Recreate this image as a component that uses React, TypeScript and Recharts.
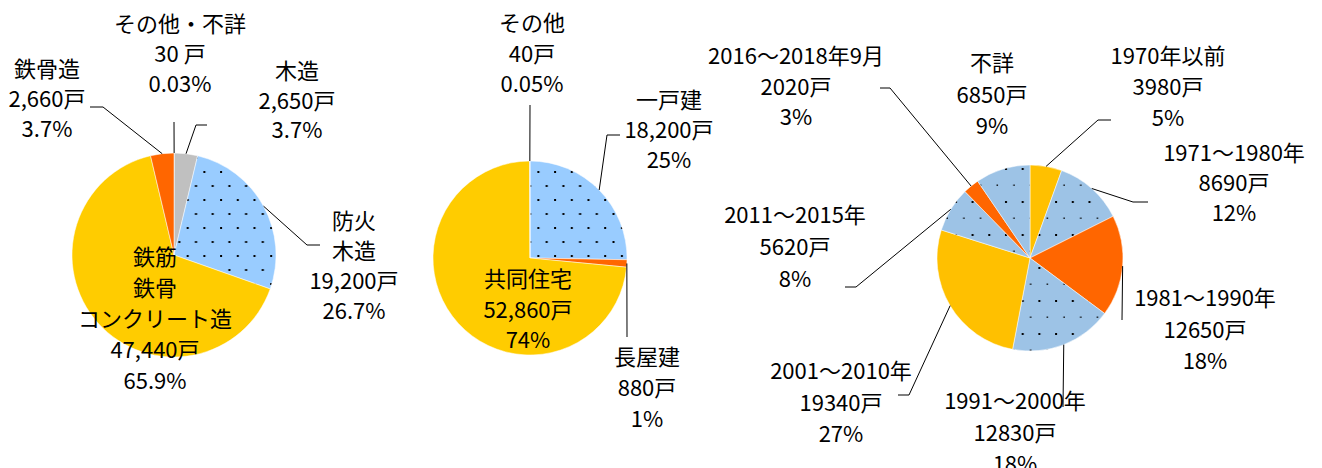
import { PieChart, Pie, Cell } from "recharts"

// 構造別
const structureNames = ["その他・不詳", "木造", "防火\n木造", "鉄筋\n鉄骨\nコンクリート造", "鉄骨造"]
const structureValues = [30, 2650, 19200, 47440, 2660]
const structureUnits = ["30 戸", "2,650戸", "19,200戸", "47,440戸", "2,660戸"]
const structureShares = ["0.03%", "3.7%", "26.7%", "65.9%", "3.7%"]

// 建て方別
const typeNames = ["一戸建", "長屋建", "共同住宅", "その他"]
const typeValues = [18200, 880, 52860, 40]
const typeUnits = ["18,200戸", "880戸", "52,860戸", "40戸"]
const typeShares = ["25%", "1%", "74%", "0.05%"]

// 建築の時期別
const periodNames = [
  "1970年以前",
  "1971～1980年",
  "1981～1990年",
  "1991～2000年",
  "2001～2010年",
  "2011～2015年",
  "2016～2018年9月",
  "不詳",
]
const periodValues = [3980, 8690, 12650, 12830, 19340, 5620, 2020, 6850]
const periodShares = ["5%", "12%", "18%", "18%", "27%", "8%", "3%", "9%"]

const DOT_A = "url(#dotsA)"
const DOT_B = "url(#dotsB)"
const structureFills = ["#C0C0C0", "#C0C0C0", DOT_A, "#FFCC00", "#FF6600"]
const typeFills = [DOT_A, "#FF6600", "#FFCC00", "#C0C0C0"]
const periodFills = [
  "#FFC000",
  DOT_B,
  "#FF6600",
  DOT_B,
  "#FFC000",
  DOT_B,
  "#FF6600",
  DOT_B,
]

type Spot = { dx: number; dy: number; gap: number; path: [number, number][] }

// label position relative to pie centre, leader line elbows
const structureSpots: Spot[] = [
  { dx: 6, dy: -233, gap: 30, path: [[0, -133]] },
  { dx: 123, dy: -186, gap: 29.5, path: [[22, -130], [33, -130]] },
  { dx: 180, dy: -36, gap: 30, path: [[133, -10], [146, -10]] },
  { dx: -19, dy: 0, gap: 31, path: [] },
  { dx: -127, dy: -188, gap: 30, path: [[-71, -148], [-84, -148]] },
]
const typeSpots: Spot[] = [
  { dx: 139, dy: -160, gap: 30, path: [[77, -123], [90, -123]] },
  { dx: 117, dy: 97, gap: 31, path: [[97, 79]] },
  { dx: -2, dy: 19, gap: 30.5, path: [] },
  { dx: 2, dy: -237, gap: 30.5, path: [[0, -153]] },
]
const periodSpots: Spot[] = [
  { dx: 138, dy: -204, gap: 31, path: [[68, -138], [81, -138]] },
  { dx: 204, dy: -107, gap: 30, path: [[103, -56], [118, -56]] },
  { dx: 175, dy: 38, gap: 31.5, path: [[92, 62]] },
  { dx: -15, dy: 141, gap: 31.5, path: [[33, 149]] },
  { dx: -189, dy: 111, gap: 31.5, path: [[-121, 137], [-132, 137]] },
  { dx: -235, dy: -45, gap: 32, path: [[-174, 29], [-185, 29]] },
  { dx: -234, dy: -204, gap: 30.5, path: [[-140, -170], [-150, -170]] },
  { dx: -38, dy: -197, gap: 31.5, path: [] },
]

const font = "'Liberation Sans Narrow', 'Noto Sans CJK JP', sans-serif"

function makeLabel(lines: string[][], spots: Spot[]) {
  return (props: any) => {
    const { cx, cy, midAngle, outerRadius, index } = props
    const spot = spots[index]
    const rad = (-midAngle * Math.PI) / 180
    const sx = cx + outerRadius * Math.cos(rad)
    const sy = cy + outerRadius * Math.sin(rad)
    const pts = [[sx, sy], ...spot.path.map(([x, y]) => [cx + x, cy + y])]
    return (
      <g key={`lbl-${index}`}>
        {spot.path.length > 0 && (
          <polyline
            points={pts.map((p) => p.join(",")).join(" ")}
            fill="none"
            stroke="#000"
            strokeWidth={1}
          />
        )}
        {lines[index].map((t, i) => (
          <text
            key={i}
            x={cx + spot.dx}
            y={cy + spot.dy + i * spot.gap}
            textAnchor="middle"
            dominantBaseline="central"
            fontFamily={font}
            fontSize={22}
            fill="#000"
          >
            {t}
          </text>
        ))}
      </g>
    )
  }
}

const structureData = structureNames.map((name, i) => ({ name, value: structureValues[i] }))
const typeData = typeNames.map((name, i) => ({ name, value: typeValues[i] }))
const periodData = periodNames.map((name, i) => ({ name, value: periodValues[i] }))

const structureLines = structureNames.map((n, i) => [...n.split("\n"), structureUnits[i], structureShares[i]])
const typeLines = typeNames.map((n, i) => [n, typeUnits[i], typeShares[i]])
const periodLines = periodNames.map((n, i) => [n, `${periodValues[i]}戸`, periodShares[i]])

export default function App() {
  return (
    <div style={{ position: "absolute", left: 0, top: 0, width: 1322, height: 468, background: "#fff" }}>
      <PieChart width={1322} height={468} margin={{ top: 0, right: 0, bottom: 0, left: 0 }}>
        <defs>
          <pattern id="dotsA" patternUnits="userSpaceOnUse" width={16.7} height={28}>
            <rect width={16.7} height={28} fill="#99CCFF" />
            <rect x={3} y={3} width={2} height={2} fill="#000" />
            <rect x={11.3} y={17} width={2} height={2} fill="#000" />
          </pattern>
          <pattern id="dotsB" patternUnits="userSpaceOnUse" width={16.7} height={33}>
            <rect width={16.7} height={33} fill="#9DC3E6" />
            <rect x={3} y={3} width={2} height={2} fill="#000" />
            <rect x={11.3} y={19.5} width={1.4} height={1.4} fill="#000" />
          </pattern>
        </defs>
        <Pie
          data={structureData}
          dataKey="value"
          cx={174}
          cy={255}
          outerRadius={102}
          startAngle={90}
          endAngle={-270}
          stroke="#fff"
          strokeWidth={0.5}
          labelLine={false}
          label={makeLabel(structureLines, structureSpots)}
          isAnimationActive={false}
        >
          {structureData.map((d, i) => (
            <Cell key={d.name} fill={structureFills[i]} />
          ))}
        </Pie>
        <Pie
          data={typeData}
          dataKey="value"
          cx={530}
          cy={258}
          outerRadius={97}
          startAngle={90}
          endAngle={-270}
          stroke="#fff"
          strokeWidth={0.5}
          labelLine={false}
          label={makeLabel(typeLines, typeSpots)}
          isAnimationActive={false}
        >
          {typeData.map((d, i) => (
            <Cell key={d.name} fill={typeFills[i]} />
          ))}
        </Pie>
        <Pie
          data={periodData}
          dataKey="value"
          cx={1030}
          cy={258}
          outerRadius={93}
          startAngle={90}
          endAngle={-270}
          stroke="#fff"
          strokeWidth={0.5}
          labelLine={false}
          label={makeLabel(periodLines, periodSpots)}
          isAnimationActive={false}
        >
          {periodData.map((d, i) => (
            <Cell key={d.name} fill={periodFills[i]} />
          ))}
        </Pie>
      </PieChart>
    </div>
  )
}
